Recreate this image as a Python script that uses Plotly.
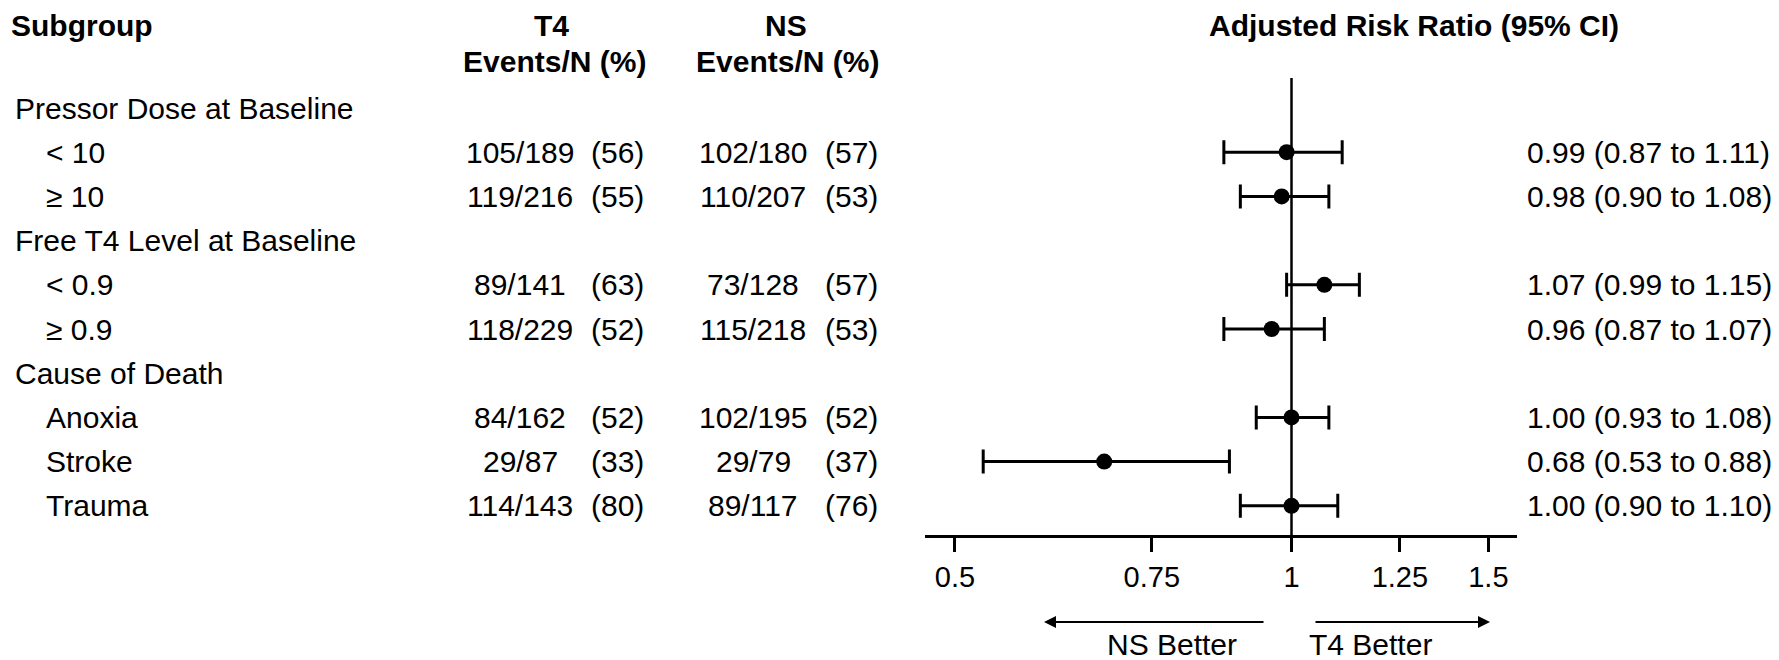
import math
import plotly.graph_objects as go

W, H = 1779, 660

# ---- data ----
row_labels = ["Pressor Dose at Baseline", "< 10", "≥ 10",
              "Free T4 Level at Baseline", "< 0.9", "≥ 0.9",
              "Cause of Death", "Anoxia", "Stroke", "Trauma"]
is_group = [True, False, False, True, False, False, True, False, False, False]
t4_events = ["", "105/189", "119/216", "", "89/141", "118/229", "", "84/162", "29/87", "114/143"]
t4_pct = ["", "(56)", "(55)", "", "(63)", "(52)", "", "(52)", "(33)", "(80)"]
ns_events = ["", "102/180", "110/207", "", "73/128", "115/218", "", "102/195", "29/79", "89/117"]
ns_pct = ["", "(57)", "(53)", "", "(57)", "(53)", "", "(52)", "(37)", "(76)"]
est_rows = [1, 2, 4, 5, 7, 8, 9]
rr = [0.99, 0.98, 1.07, 0.96, 1.00, 0.68, 1.00]
lo = [0.87, 0.90, 0.99, 0.87, 0.93, 0.53, 0.90]
hi = [1.11, 1.08, 1.15, 1.07, 1.08, 0.88, 1.10]
tick_vals = [0.5, 0.75, 1, 1.25, 1.5]
tick_text = ["0.5", "0.75", "1", "1.25", "1.5"]

FONT = "Arial, 'Liberation Sans', sans-serif"
FS = 30

# layout geometry (pixels)
row0_px, row_step = 108.0, 44.2
axis_px = 535.0
def row_of(px):
    return (px - row0_px) / row_step

fig = go.Figure()
fig.add_trace(go.Scatter(
    x=rr, y=est_rows, mode="markers",
    marker=dict(color="black", size=16),
    error_x=dict(type="data", symmetric=False,
                 array=[h - r for h, r in zip(hi, rr)],
                 arrayminus=[r - l for r, l in zip(rr, lo)],
                 color="black", thickness=3, width=12),
    cliponaxis=False, showlegend=False, hoverinfo="skip"))

ann = []
def txt(x_px, y, s, anchor="left", bold=False, yref="y"):
    ann.append(dict(x=x_px / W, xref="paper", y=y, yref=yref, text=("<b>%s</b>" % s) if bold else s,
                    showarrow=False, xanchor=anchor, yanchor="middle",
                    font=dict(family=FONT, size=FS, color="black")))

# headers
hy1, hy2 = row_of(25), row_of(61)
txt(9, hy1, "Subgroup", bold=True)
txt(551, hy1, "T4", "center", True)
txt(554, hy2, "Events/N (%)", "center", True)
txt(786, hy1, "NS", "center", True)
txt(787, hy2, "Events/N (%)", "center", True)
txt(1414, hy1, "Adjusted Risk Ratio (95% CI)", "center", True)

for i, lab in enumerate(row_labels):
    txt(13 if is_group[i] else 44, i, lab)
    if t4_events[i]:
        txt(520, i, t4_events[i], "center")
        txt(617, i, t4_pct[i], "center")
        txt(753, i, ns_events[i], "center")
        txt(851, i, ns_pct[i], "center")

for r, a, b, c in zip(est_rows, rr, lo, hi):
    txt(1525, r, "%.2f (%.2f to %.2f)" % (a, b, c))

# direction arrows and labels
ay = 1 - 622 / H
ann.append(dict(x=1044 / W, y=ay, xref="paper", yref="paper", ax=1265 - 1044, ay=0,
                text="", showarrow=True, arrowhead=2, arrowsize=1.2, arrowwidth=2, arrowcolor="black"))
ann.append(dict(x=1490 / W, y=ay, xref="paper", yref="paper", ax=1314 - 1490, ay=0,
                text="", showarrow=True, arrowhead=2, arrowsize=1.2, arrowwidth=2, arrowcolor="black"))
txt(1172, 1 - 644 / H, "NS Better", "center", yref="paper")
txt(1370, 1 - 644 / H, "T4 Better", "center", yref="paper")

x0_px, x1_px, x1val_px = 925.0, 1517.0, 1291.5
per_ln = 485.6
rng = [math.log10(math.exp((x0_px - x1val_px) / per_ln)),
       math.log10(math.exp((x1_px - x1val_px) / per_ln))]

fig.update_layout(
    width=W, height=H, autosize=False,
    margin=dict(l=0, r=0, t=0, b=0),
    paper_bgcolor="white", plot_bgcolor="white",
    font=dict(family=FONT, size=FS, color="black"),
    annotations=ann,
    shapes=[dict(type="line", xref="x", yref="y", x0=1, x1=1,
                 y0=row_of(78), y1=row_of(axis_px), line=dict(color="black", width=2.5))],
    xaxis=dict(type="log", range=rng, domain=[x0_px / W, x1_px / W],
               showline=True, linecolor="black", linewidth=2.5,
               ticks="outside", ticklen=14, tickwidth=2.5, tickcolor="black",
               tickvals=tick_vals, ticktext=tick_text, ticklabelstandoff=0,
               tickfont=dict(family=FONT, size=29, color="black"),
               showgrid=False, zeroline=False, fixedrange=True),
    yaxis=dict(visible=False, range=[row_of(axis_px), row_of(0)],
               domain=[1 - axis_px / H, 1], fixedrange=True),
)

fig.write_html("out.html", config={"displayModeBar": False},
               post_script="document.documentElement.style.margin='0';"
                           "document.body.style.margin='0';"
                           "document.body.style.overflow='hidden';")
